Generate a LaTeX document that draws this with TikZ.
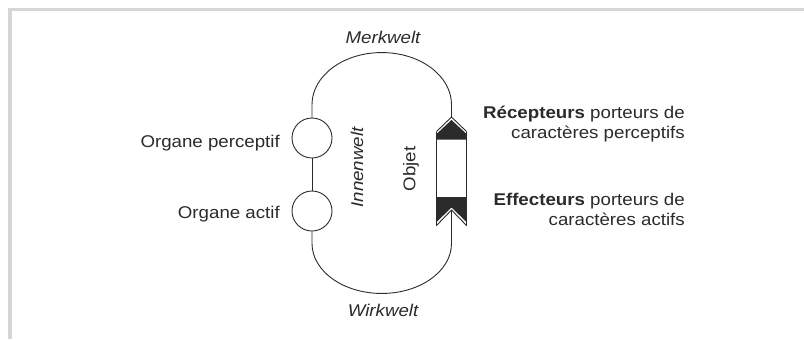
\documentclass[tikz,border=0pt]{standalone}
\usepackage{fontspec}
\setmainfont{Liberation Sans}[FakeStretch=1.1]
\definecolor{ink}{HTML}{2B2B2B}
\definecolor{framegray}{HTML}{D6D6D6}
\begin{document}
\begin{tikzpicture}[x=1bp,y=-1bp,
  lbl/.style={inner sep=0pt, font=\fontsize{17bp}{20bp}\selectfont, text=ink},
  organ/.style={circle, draw=ink, line width=0.9bp, minimum size=40bp, inner sep=0pt},
  conn/.style={draw=ink, line width=0.9bp},
  blk/.style={fill=ink},
  framel/.style={draw=framegray, line width=3.5bp}]
\useasboundingbox (0,0) rectangle (804,339);
\fill[white] (0,0) rectangle (804,339);
\draw[framel] (10,339) -- (10,9.5) -- (804,9.5);
% organs
\node[organ] (perc) at (312,138) {};
\node[organ] (act) at (312,211) {};
\coordinate (rtip) at (451.5,117);
\coordinate (etip) at (451.5,210);
% loops
\draw[conn] (perc.north) -- ++(0,-13) arc[start angle=180, end angle=360, x radius=69.75, y radius=52] -- (rtip);
\draw[conn] (perc.south) -- (act.north);
\draw[conn] (act.south) -- ++(0,12) arc[start angle=180, end angle=0, x radius=69.75, y radius=50] -- (etip);
% object
\fill[blk] (436.5,134) -- (451.5,120) -- (466.5,134) -- (466.5,139.5) -- (436.5,139.5) -- cycle;
\draw[conn] (436.5,131.5) -- (rtip) -- (466.5,131.5);
\fill[blk] (436.5,197) -- (466.5,197) -- (466.5,222) -- (451.5,207.5) -- (436.5,222) -- cycle;
\draw[conn] (436.5,225.5) -- (etip) -- (466.5,225.5);
\draw[conn, line width=0.7bp] (436.5,131.5) -- (436.5,225.5);
\draw[conn, line width=0.7bp] (466.5,131.5) -- (466.5,225.5);
% labels
\node[lbl, anchor=base] (merk) at (383,43.3) {\itshape Merkwelt};
\node[lbl, anchor=base] (wirk) at (383,316.7) {\itshape Wirkwelt};
\node[lbl, anchor=base east] (percl) at (280,147.3) {Organe perceptif};
\node[lbl, anchor=base east] (actl) at (280,218) {Organe actif};
\node[lbl, rotate=90] (innen) at (357,167.5) {\itshape Innenwelt};
\node[lbl, rotate=90] (objet) at (411,169) {Objet};
\node[lbl, anchor=base east] (rec1) at (685,118.3) {\textbf{Récepteurs} porteurs de};
\node[lbl, anchor=base east] (rec2) at (685,138.3) {caractères perceptifs};
\node[lbl, anchor=base east] (eff1) at (685,205) {\textbf{Effecteurs} porteurs de};
\node[lbl, anchor=base east] (eff2) at (685,225) {caractères actifs};
\end{tikzpicture}
\end{document}
